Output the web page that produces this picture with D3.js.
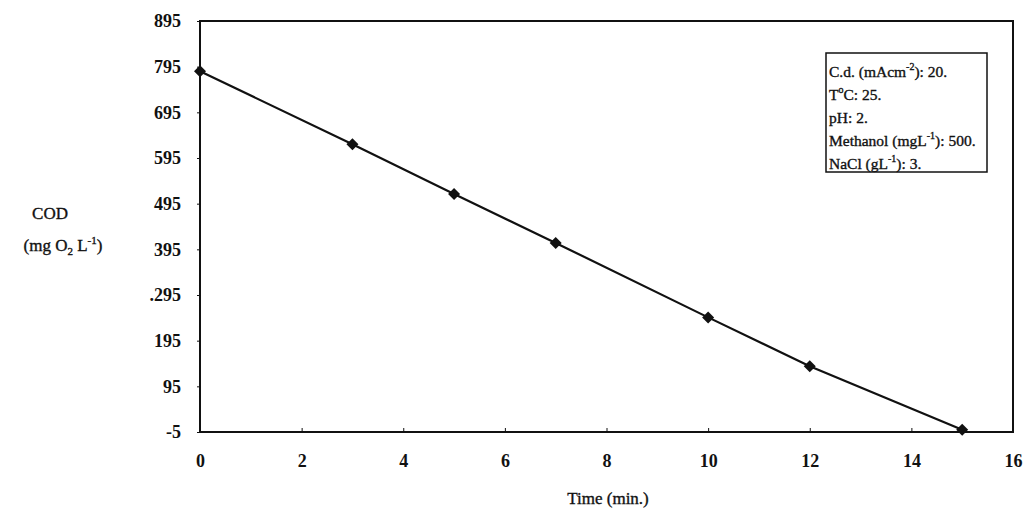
<!DOCTYPE html>
<html><head><meta charset="utf-8">
<script src="https://cdn.jsdelivr.net/npm/d3@7"></script>
<style>
body{margin:0;background:#fff;}
svg text{font-family:"Liberation Serif","Times New Roman",serif;fill:#111;}
</style></head>
<body><svg id="c" width="1027" height="519"></svg>
<script>
const times = [0, 3, 5, 7, 10, 12, 15];
const cod = [785, 625, 516, 409, 246, 139, 0];
const xTicks = [0, 2, 4, 6, 8, 10, 12, 14, 16];
const yTicks = [-5, 95, 195, 295, 395, 495, 595, 695, 795, 895];
const yTickLabels = ["-5", "95", "195", ".295", "395", "495", "595", "695", "795", "895"];
const legendLines = [
  ["C.d. (mAcm", "-2", "): 20."],
  ["T", "o", "C: 25."],
  ["pH: 2.", "", ""],
  ["Methanol (mgL", "-1", "): 500."],
  ["NaCl (gL", "-1", "): 3."]
];

const svg = d3.select("#c");
const m = {l:200, r:1013, t:21, b:432};
const x = d3.scaleLinear().domain([0,16]).range([m.l, m.r]);
const y = d3.scaleLinear().domain([-5,895]).range([m.b, m.t]);

// frame
svg.append("rect").attr("x", m.l).attr("y", m.t).attr("width", m.r-m.l).attr("height", m.b-m.t)
  .attr("fill","none").attr("stroke","#111").attr("stroke-width",2);

const xa = svg.append("g").attr("transform",`translate(0,${m.b})`)
  .call(d3.axisBottom(x).tickValues(xTicks).tickSize(-4).tickPadding(22).tickFormat(d3.format("d")));
const ya = svg.append("g").attr("transform",`translate(${m.l},0)`)
  .call(d3.axisLeft(y).tickValues(yTicks).tickSize(3).tickPadding(16).tickFormat((d,i)=>yTickLabels[yTicks.indexOf(d)]));
[xa, ya].forEach(a=>{
  a.select(".domain").remove();
  a.selectAll("line").attr("stroke","#111").attr("stroke-width",1);
  a.selectAll("text").attr("font-size",18).attr("font-weight","bold")
   .style("font-family","'Liberation Serif',serif").attr("fill","#111");
});

// line
const pts = times.map((t,i)=>[t, cod[i]]);
svg.append("path").datum(pts)
  .attr("d", d3.line().x(d=>x(d[0])).y(d=>y(d[1])))
  .attr("fill","none").attr("stroke","#111").attr("stroke-width",2.2);
svg.selectAll(".mk").data(pts).enter().append("path")
  .attr("d", d3.symbol(d3.symbolSquare, 72)())
  .attr("transform", d=>`translate(${x(d[0])},${y(d[1])}) rotate(45)`)
  .attr("fill","#111");

// axis titles
const titleStyle = t => t.attr("font-size",17).attr("stroke","#111").attr("stroke-width",0.35);
titleStyle(svg.append("text").attr("x", 608).attr("y", 504).attr("text-anchor","middle")).text("Time (min.)");
titleStyle(svg.append("text").attr("x", 50).attr("y", 219).attr("text-anchor","middle")).text("COD");
const yt = titleStyle(svg.append("text").attr("x", 63).attr("y", 251).attr("text-anchor","middle"));
yt.append("tspan").text("(mg O");
yt.append("tspan").attr("font-size",11).attr("dy",4).text("2");
yt.append("tspan").attr("dy",-4).text(" L");
yt.append("tspan").attr("font-size",11).attr("dy",-7).text("-1");
yt.append("tspan").attr("dy",7).text(")");

// legend box
svg.append("rect").attr("x",826).attr("y",53).attr("width",161).attr("height",119)
  .attr("fill","#fff").attr("stroke","#111").attr("stroke-width",1.5);
legendLines.forEach((ln,i)=>{
  const t = svg.append("text").attr("x",829).attr("y",77 + i*23)
    .attr("font-size",15.5).attr("stroke","#111").attr("stroke-width",0.35);
  t.append("tspan").text(ln[0]);
  if (ln[1]) {
    t.append("tspan").attr("font-size",10).attr("dy",-7).text(ln[1]);
    t.append("tspan").attr("dy",7).text(ln[2]);
  }
});
</script></body></html>
